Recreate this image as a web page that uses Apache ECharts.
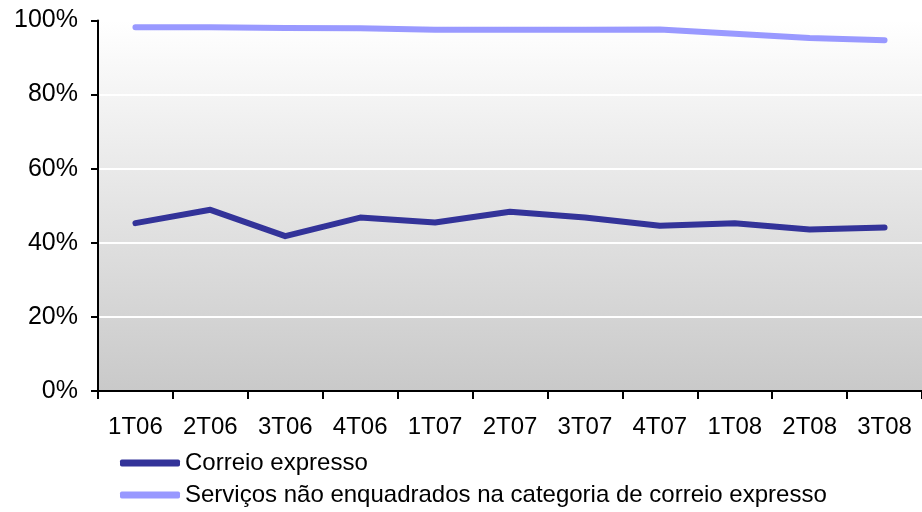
<!DOCTYPE html>
<html lang="pt">
<head>
    <meta charset="UTF-8">
    <title>Correio expresso</title>
    <script src="https://cdn.jsdelivr.net/npm/echarts@6/dist/echarts.min.js"></script>
    <style>
        html, body { margin: 0; padding: 0; background: #fff; }
        #chart { width: 922px; height: 512px; }
    </style>
</head>
<body>
    <div id="chart"></div>
    <script>
        // trimestres
        var categories = ['1T06', '2T06', '3T06', '4T06', '1T07', '2T07', '3T07', '4T07', '1T08', '2T08', '3T08'];
        // % valores
        var correio = [45.3, 48.9, 41.8, 46.8, 45.5, 48.4, 46.8, 44.6, 45.3, 43.6, 44.1];
        var servicos = [98.2, 98.2, 98.0, 97.9, 97.5, 97.5, 97.5, 97.6, 96.4, 95.3, 94.7];
        var seriesNames = ['Correio expresso', 'Serviços não enquadrados na categoria de correio expresso'];

        var font = 'Liberation Sans, Arial, sans-serif';
        var legendText = { fontSize: 24, color: '#000', fontFamily: font };

        // uma legenda por linha, empilhadas
        function legendItem(name, top) {
            return {
                left: 120,
                top: top,
                itemWidth: 60,
                itemHeight: 7,
                icon: 'roundRect',
                padding: 0,
                textStyle: legendText,
                data: [name]
            };
        }

        var myChart = echarts.init(document.getElementById('chart'));
        var option = {
            animation: false,
            textStyle: { fontFamily: font },
            grid: {
                left: 98,
                top: 20.5,
                width: 834,
                height: 370.5,
                show: true,
                borderWidth: 0,
                backgroundColor: new echarts.graphic.LinearGradient(0, 0, 0, 1, [
                    { offset: 0, color: '#ffffff' },
                    { offset: 1, color: '#c9c9c9' }
                ])
            },
            legend: [
                legendItem(seriesNames[0], 451),
                legendItem(seriesNames[1], 483)
            ],
            xAxis: {
                type: 'category',
                data: categories,
                boundaryGap: true,
                axisLine: { lineStyle: { color: '#000', width: 2 } },
                axisTick: { show: true, interval: 0, length: 8, lineStyle: { color: '#000', width: 2 } },
                axisLabel: { interval: 0, fontSize: 24, color: '#000', margin: 24 },
                splitLine: { show: false }
            },
            yAxis: {
                type: 'value',
                min: 0,
                max: 100,
                interval: 20,
                axisLine: { show: true, lineStyle: { color: '#000', width: 2 } },
                axisTick: { show: true, length: 7, lineStyle: { color: '#000', width: 2 } },
                axisLabel: { formatter: '{value}%', fontSize: 25, color: '#000', margin: 20 },
                splitLine: { show: true, lineStyle: { color: '#ffffff', width: 2 } }
            },
            series: [
                {
                    name: seriesNames[0],
                    type: 'line',
                    data: correio,
                    symbol: 'none',
                    color: '#333399',
                    lineStyle: { width: 6, color: '#333399', cap: 'round', join: 'round' }
                },
                {
                    name: seriesNames[1],
                    type: 'line',
                    data: servicos,
                    symbol: 'none',
                    color: '#9999ff',
                    lineStyle: { width: 6, color: '#9999ff', cap: 'round', join: 'round' }
                }
            ]
        };
        myChart.setOption(option);
    </script>
</body>
</html>
